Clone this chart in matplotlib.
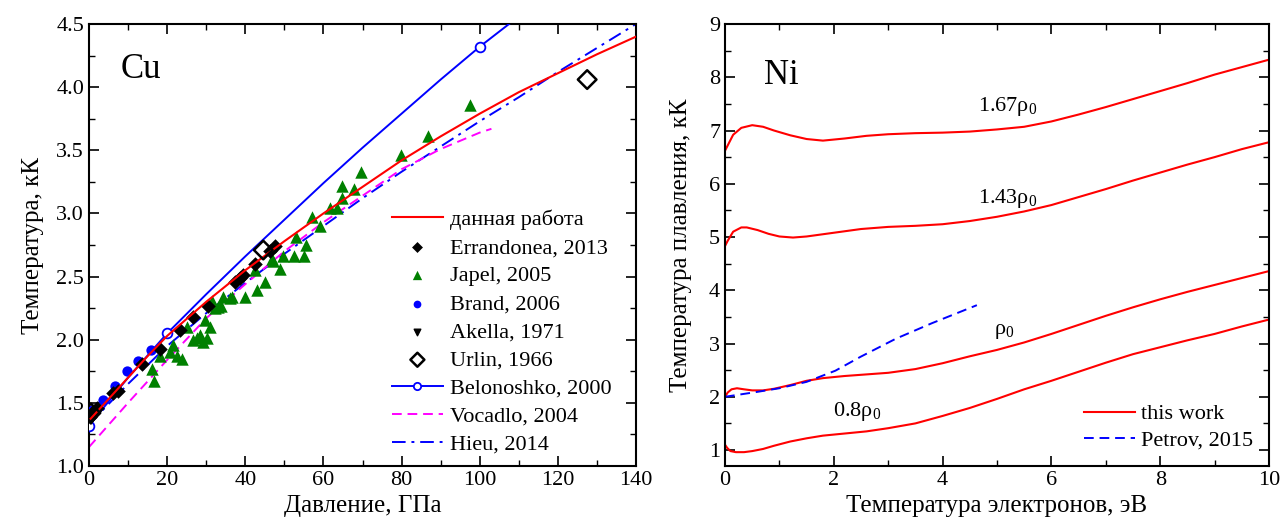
import matplotlib
matplotlib.use("Agg")
import matplotlib.pyplot as plt
from matplotlib.ticker import MultipleLocator, FormatStrFormatter

plt.rcParams['font.family'] = ['Liberation Serif', 'DejaVu Serif']
plt.rcParams['mathtext.fontset'] = 'custom'
plt.rcParams['mathtext.rm'] = 'Liberation Serif'
plt.rcParams['mathtext.it'] = 'Liberation Serif:italic'

# ---------------- Cu panel data ----------------
this_P = [0, 5, 10, 15, 20, 30, 40, 50, 60, 70, 80, 90, 100, 110, 120, 130, 140]
this_T = [1.36, 1.53, 1.70, 1.87, 2.03, 2.30, 2.55, 2.78, 3.00, 3.21, 3.42, 3.61, 3.79, 3.96, 4.11, 4.26, 4.40]

err_P = [0.3, 1.1, 2.0, 6.2, 7.5, 13.5, 18.2, 23.3, 26.7, 30.5, 37.4, 38.6, 39.5, 42.5, 46.3, 47.6]
err_T = [1.39, 1.43, 1.46, 1.58, 1.59, 1.81, 1.93, 2.08, 2.18, 2.27, 2.46, 2.49, 2.51, 2.60, 2.70, 2.74]

japel_P = [16.6, 16.0, 18.2, 20.7, 21.4, 22.4, 23.7, 25.0, 26.7, 27.6, 28.4, 29.3, 30.1, 31.0,
           29.7, 31.4, 32.2, 33.1, 34.4, 33.9, 36.1, 36.5, 39.9, 42.9, 45.0, 42.5, 47.2, 48.9,
           49.7, 52.5, 54.9, 46.8, 53.1, 55.5, 57.0, 59.1, 61.7, 63.4, 64.7, 64.7, 67.7, 69.5,
           79.8, 86.8, 97.5]
japel_T = [1.67, 1.77, 1.87, 1.90, 1.96, 1.87, 1.85, 2.10, 2.00, 2.01, 2.04, 1.98, 2.01, 2.10,
           2.16, 2.31, 2.25, 2.26, 2.34, 2.27, 2.33, 2.34, 2.34, 2.39, 2.46, 2.55, 2.62, 2.56,
           2.66, 2.66, 2.66, 2.64, 2.81, 2.75, 2.97, 2.90, 3.04, 3.04, 3.22, 3.12, 3.19, 3.33,
           3.46, 3.61, 3.86]

brand_P = [0.7, 3.7, 6.7, 9.6, 12.6, 15.8]
brand_T = [1.44, 1.52, 1.63, 1.75, 1.83, 1.92]

akella_P = [0.5]
akella_T = [1.37]

urlin_P = [0.5, 44.6, 127.5]
urlin_T = [1.42, 2.71, 4.06]

belo_P = [0, 10, 20, 30, 40, 50, 60, 70, 80, 90, 100, 110]
belo_T = [1.32, 1.70, 2.05, 2.36, 2.66, 2.95, 3.24, 3.52, 3.79, 4.06, 4.32, 4.56]
belo_marks = [0, 2, 10]

voc_P = [0, 10, 20, 30, 40, 50, 60, 70, 80, 90, 100, 103]
voc_T = [1.15, 1.50, 1.84, 2.17, 2.44, 2.70, 2.93, 3.14, 3.35, 3.51, 3.64, 3.67]

hieu_P = [0, 10, 20, 30, 40, 50, 60, 70, 80, 90, 100, 110, 120, 130, 140]
hieu_T = [1.33, 1.65, 1.95, 2.21, 2.45, 2.68, 2.90, 3.12, 3.33, 3.53, 3.73, 3.92, 4.12, 4.31, 4.50]

# ---------------- Ni panel data ----------------
e167 = [0, 0.05, 0.15, 0.3, 0.5, 0.7, 0.9, 1.2, 1.5, 1.8, 2.2, 2.6, 3.0, 3.5, 4.0, 4.5,
        5.0, 5.5, 6.0, 6.5, 7.0, 7.5, 8.0, 8.5, 9.0, 9.5, 10]
t167 = [6.62, 6.72, 6.92, 7.05, 7.10, 7.07, 7.00, 6.91, 6.84, 6.81, 6.85, 6.90, 6.93, 6.95, 6.96, 6.98,
        7.02, 7.07, 7.17, 7.30, 7.44, 7.59, 7.74, 7.89, 8.05, 8.19, 8.33]

e143 = [0, 0.05, 0.15, 0.3, 0.4, 0.6, 0.8, 1.0, 1.25, 1.5, 2.0, 2.5, 3.0, 3.5, 4.0, 4.5,
        5.0, 5.5, 6.0, 6.5, 7.0, 7.5, 8.0, 8.5, 9.0, 9.5, 10]
t143 = [4.83, 4.93, 5.10, 5.18, 5.18, 5.13, 5.06, 5.01, 4.99, 5.01, 5.08, 5.15, 5.19, 5.21, 5.24, 5.30,
        5.38, 5.48, 5.60, 5.75, 5.90, 6.06, 6.21, 6.36, 6.50, 6.65, 6.78]

e100 = [0, 0.05, 0.12, 0.22, 0.35, 0.5, 0.7, 0.9, 1.2, 1.5, 1.8, 2.2, 2.6, 3.0, 3.5, 4.0,
        4.5, 5.0, 5.5, 6.0, 6.5, 7.0, 7.5, 8.0, 8.5, 9.0, 9.5, 10]
t100 = [2.00, 2.08, 2.14, 2.16, 2.14, 2.12, 2.12, 2.15, 2.22, 2.30, 2.35, 2.39, 2.42, 2.45, 2.52, 2.63,
        2.76, 2.88, 3.02, 3.18, 3.35, 3.52, 3.68, 3.83, 3.97, 4.10, 4.23, 4.36]

e080 = [0, 0.04, 0.1, 0.2, 0.35, 0.5, 0.7, 0.9, 1.2, 1.5, 1.8, 2.2, 2.6, 3.0, 3.5, 4.0,
        4.5, 5.0, 5.5, 6.0, 6.5, 7.0, 7.5, 8.0, 8.5, 9.0, 9.5, 10]
t080 = [1.10, 1.04, 0.98, 0.96, 0.96, 0.98, 1.02, 1.08, 1.16, 1.22, 1.27, 1.31, 1.35, 1.41, 1.50, 1.64,
        1.79, 1.96, 2.14, 2.30, 2.47, 2.64, 2.80, 2.93, 3.06, 3.18, 3.32, 3.45]

petrov_E = [0.0, 0.58, 1.0, 1.5, 2.03, 2.49, 3.14, 3.80, 4.63]
petrov_T = [2.00, 2.09, 2.16, 2.28, 2.49, 2.75, 3.09, 3.38, 3.72]

RED = '#ff0000'
BLUE = '#0000ff'
GREEN = '#008000'
MAG = '#ff00ff'

fig = plt.figure(figsize=(12.85, 5.29), dpi=100)
ax1 = fig.add_axes([89/1285, 63/529, 547/1285, 442/529])
ax2 = fig.add_axes([725/1285, 63/529, 544/1285, 442/529])

TICK_FS = 16
LABEL_FS = 18

# ---- Cu ----
ax1.plot(hieu_P, hieu_T, color=BLUE, lw=1.4, dashes=[7, 3, 1.5, 3], label='Hieu, 2014', zorder=2)
ax1.plot(voc_P, voc_T, color=MAG, lw=1.4, ls=(0, (5, 3)), label='Vocadlo, 2004', zorder=2)
ax1.plot(belo_P, belo_T, color=BLUE, lw=1.4, marker='o', markevery=belo_marks, ms=7,
         mfc='white', mec=BLUE, mew=1.3, label='Belonoshko, 2000', zorder=3)
ax1.scatter(japel_P, japel_T, marker='^', s=80, color=GREEN, label='Japel, 2005', zorder=4, linewidths=0)
ax1.scatter(brand_P, brand_T, marker='o', s=55, color=BLUE, label='Brand, 2006', zorder=4, linewidths=0)
ax1.scatter(err_P, err_T, marker='D', s=55, color='black', label='Errandonea, 2013', zorder=5, linewidths=0)
ax1.scatter(akella_P, akella_T, marker='v', s=40, color='black', label='Akella, 1971', zorder=5)
ax1.scatter(urlin_P, urlin_T, marker='D', s=90, facecolors='none', edgecolors='black',
            linewidths=1.8, label='Urlin, 1966', zorder=6)
ax1.plot(this_P, this_T, color=RED, lw=1.5, label='данная работа', zorder=5)

ax1.set_xlim(0, 140)
ax1.set_ylim(1.0, 4.5)
ax1.xaxis.set_major_locator(MultipleLocator(20))
ax1.xaxis.set_minor_locator(MultipleLocator(10))
ax1.yaxis.set_major_locator(MultipleLocator(0.5))
ax1.yaxis.set_minor_locator(MultipleLocator(0.25))
ax1.yaxis.set_major_formatter(FormatStrFormatter('%.1f'))
ax1.set_xlabel('Давление, ГПа', fontsize=LABEL_FS)
ax1.set_ylabel('Температура, кК', fontsize=LABEL_FS, labelpad=9)
ax1.text(8, 4.14, 'Cu', fontsize=25, va='center', ha='left')

h, l = ax1.get_legend_handles_labels()
order = ['данная работа', 'Errandonea, 2013', 'Japel, 2005', 'Brand, 2006', 'Akella, 1971',
         'Urlin, 1966', 'Belonoshko, 2000', 'Vocadlo, 2004', 'Hieu, 2014']
hd = dict(zip(l, h))
ax1.legend([hd[k] for k in order], order, loc='lower right', frameon=False, fontsize=16,
           handlelength=2.3, handletextpad=0.3, labelspacing=0.34, borderaxespad=0.0,
           markerscale=0.75, bbox_to_anchor=(0.971, 0.005))

# ---- Ni ----
ax2.plot(e167, t167, color=RED, lw=1.5, label='this work')
ax2.plot(e143, t143, color=RED, lw=1.5)
ax2.plot(e100, t100, color=RED, lw=1.5)
ax2.plot(e080, t080, color=RED, lw=1.5)
ax2.plot(petrov_E, petrov_T, color=BLUE, lw=1.4, ls=(0, (5, 3)), label='Petrov, 2015')

ax2.set_xlim(0, 10)
ax2.set_ylim(0.7, 9.0)
ax2.xaxis.set_major_locator(MultipleLocator(2))
ax2.xaxis.set_minor_locator(MultipleLocator(1))
ax2.yaxis.set_major_locator(MultipleLocator(1))
ax2.yaxis.set_minor_locator(MultipleLocator(0.5))
ax2.set_xlabel('Температура электронов, эВ', fontsize=LABEL_FS)
ax2.set_ylabel('Температура плавления, кК', fontsize=LABEL_FS, labelpad=12)
ax2.text(0.72, 8.04, 'Ni', fontsize=25, va='center', ha='left')
ax2.text(4.65, 7.45, r'1.67ρ$_0$', fontsize=16, va='center', ha='left')
ax2.text(4.65, 5.72, r'1.43ρ$_0$', fontsize=16, va='center', ha='left')
ax2.text(4.95, 3.22, r'ρ$_0$', fontsize=16, va='center', ha='left')
ax2.text(1.98, 1.72, r'0.8ρ$_0$', fontsize=16, va='center', ha='left')
ax2.legend(loc='lower right', frameon=False, fontsize=16, handlelength=2.3,
           handletextpad=0.3, labelspacing=0.25, borderaxespad=0.3)

for ax in (ax1, ax2):
    ax.tick_params(which='both', direction='in', top=True, right=True, labelsize=TICK_FS)
    ax.tick_params(which='major', length=7, width=1.2)
    ax.tick_params(which='minor', length=4, width=1.0)
    for s in ax.spines.values():
        s.set_linewidth(1.5)

fig.savefig('out.png', dpi=100)
